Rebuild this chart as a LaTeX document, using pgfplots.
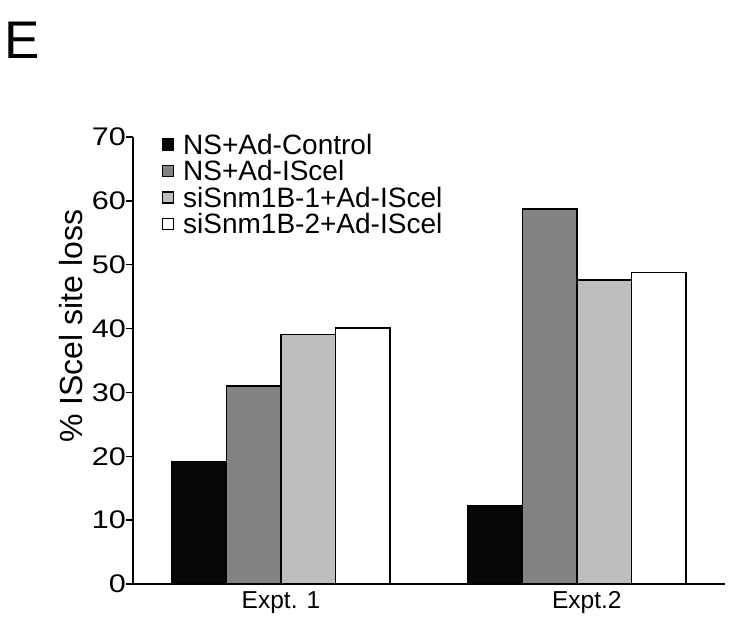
\documentclass[border=0pt]{standalone}
\usepackage{pgfplots}
\pgfplotsset{compat=1.18}
\usepackage{fontspec}
\setmainfont{Liberation Sans}
\newfontfamily\tickfont[FakeStretch=1.2]{Liberation Sans}
\definecolor{cblack}{HTML}{060606}
\definecolor{cdark}{HTML}{838383}
\definecolor{clight}{HTML}{BEBEBE}
\begin{document}
\begin{tikzpicture}
\path[use as bounding box] (0,0) rectangle (731pt,624pt);
\node[anchor=base west, inner sep=0pt, font=\fontsize{53}{53}\selectfont] at (4pt,565pt) {E};
\begin{axis}[
  at={(133pt,40pt)}, anchor=south west,
  width=592pt, height=447pt, scale only axis,
  xmin=-0.5, xmax=1.5, ymin=0, ymax=70,
  axis x line=bottom, axis y line=left,
  axis line style={-, line width=1.6pt},
  ybar=0pt, bar width=54.5pt,
  xtick={0,1.033}, xticklabels={Expt. 1, Expt.2},
  x tick style={draw=none},
  extra x ticks={-0.5,0.5,1.5}, extra x tick labels={},
  extra x tick style={major tick length=7pt, tick style={draw=black, line width=1.4pt}},
  ytick={0,10,...,70},
  tick align=outside, major tick length=7pt,
  y tick style={line width=1.4pt, black},
  /pgf/number format/assume math mode=true,
  yticklabel style={font=\tickfont\fontsize{25.5}{25.5}\selectfont, xshift=3.5pt},
  xticklabel style={font=\fontsize{24.5}{24.5}\selectfont, yshift=3pt},
  ylabel={\% IScel site loss},
  ylabel style={font=\fontsize{32}{32}\selectfont, at={(axis description cs:-0.086,0.577)}, anchor=base, inner sep=0pt},
  legend style={draw=none, fill=none, at={(axis description cs:0.049,1.0067)}, anchor=north west,
    inner sep=0pt, outer sep=0pt, column sep=9pt, row sep=0.5pt,
    font=\fontsize{28}{25}\selectfont,
    nodes={inner sep=0pt, text height=20pt, text depth=6pt}},
  legend cell align=left,
]
\addplot[fill=cblack, draw=black, line width=1.5pt,
  legend image code/.code={\draw[fill=cblack, draw=black, line width=1.2pt] (0pt,-3pt) rectangle (11pt,8pt);}]
  coordinates {(0,19.2) (1,12.2)};
\addplot[fill=cdark, draw=black, line width=1.5pt,
  legend image code/.code={\draw[fill=cdark, draw=black, line width=1.2pt] (0pt,-3pt) rectangle (11pt,8pt);}]
  coordinates {(0,31.0) (1,58.7)};
\addplot[fill=clight, draw=black, line width=1.5pt,
  legend image code/.code={\draw[fill=clight, draw=black, line width=1.2pt] (0pt,-3pt) rectangle (11pt,8pt);}]
  coordinates {(0,39.1) (1,47.6)};
\addplot[fill=white, draw=black, line width=1.5pt,
  legend image code/.code={\draw[fill=white, draw=black, line width=1.2pt] (0pt,-3pt) rectangle (11pt,8pt);}]
  coordinates {(0,40.1) (1,48.8)};
\legend{NS+Ad-Control, NS+Ad-IScel, siSnm1B-1+Ad-IScel, siSnm1B-2+Ad-IScel}
\end{axis}
\end{tikzpicture}
\end{document}
